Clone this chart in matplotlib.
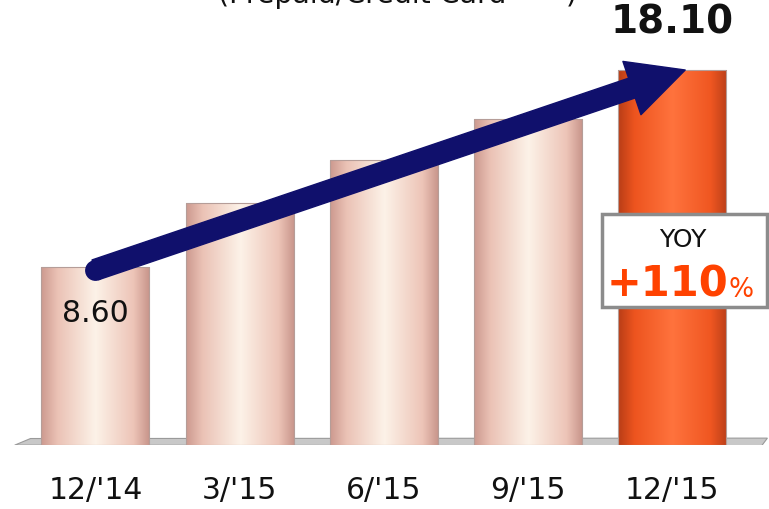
import numpy as np
import matplotlib.pyplot as plt
from matplotlib.colors import LinearSegmentedColormap
from matplotlib.patches import Rectangle, Polygon

# Member counts per quarter
quarters = ["12/'14", "3/'15", "6/'15", "9/'15", "12/'15"]
values = [8.60, 11.66, 13.75, 15.72, 18.10]
yoy_pct = 110

fig = plt.figure(figsize=(7.69, 5.10), dpi=100)
ax = fig.add_axes([0, 0.126, 1, 0.874])
ax.axis('off')

# cylinder shading, pale for past quarters and orange for the latest one
pale = LinearSegmentedColormap.from_list('pale', [
    (0.00, (0.80, 0.60, 0.56)),
    (0.15, (0.92, 0.76, 0.71)),
    (0.50, (0.99, 0.95, 0.91)),
    (0.85, (0.93, 0.77, 0.72)),
    (1.00, (0.78, 0.58, 0.54)),
])
hot = LinearSegmentedColormap.from_list('hot', [
    (0.00, (0.72, 0.24, 0.09)),
    (0.15, (0.93, 0.33, 0.12)),
    (0.50, (1.00, 0.45, 0.24)),
    (0.85, (0.94, 0.34, 0.13)),
    (1.00, (0.74, 0.25, 0.10)),
])

width = 0.75
xs = np.arange(len(values))
grad = np.linspace(0, 1, 256).reshape(1, -1)

# floor plane
ax.add_patch(Polygon([(-0.56, -0.02), (-0.45, 0.30), (4.66, 0.32), (4.62, -0.05)],
                     closed=True, facecolor='#c8c8c8', edgecolor='#9a9a9a',
                     linewidth=0.8, zorder=1))

bars = ax.bar(xs, values, width=width, color='none', edgecolor='#b59d98',
              linewidth=0.8, zorder=3)
for i, (b, v) in enumerate(zip(bars, values)):
    cmap = hot if i == len(values) - 1 else pale
    im = ax.imshow(grad, extent=[xs[i] - width / 2, xs[i] + width / 2, 0, v],
                   aspect='auto', cmap=cmap, zorder=2, interpolation='bilinear')
    im.set_clip_path(b)

# growth arrow from the first quarter to the latest
start = (xs[0], values[0] - 0.15)
tip = (xs[-1] + 0.09, values[-1])
navy = '#10106c'
ax.annotate('', xy=tip, xytext=start,
            arrowprops=dict(arrowstyle='simple,head_length=2.7,head_width=2.7,tail_width=1.0',
                            mutation_scale=15, color=navy, shrinkA=0, shrinkB=0),
            zorder=5)
ax.plot(*start, 'o', color=navy, markersize=15, markeredgewidth=0, zorder=5)

# value labels
ax.text(xs[0], 6.41, f"{values[0]:.2f}", ha='center', va='center',
        fontsize=21.5, color='#111111', zorder=6)
ax.text(xs[-1], 20.42, f"{values[-1]:.2f}", ha='center', va='center',
        fontsize=28, fontweight='bold', color='#111111', zorder=6, clip_on=False)

# YOY box on the last bar
ax.add_patch(Rectangle((3.513, 6.65), 1.144, 4.49, facecolor='white',
                       edgecolor='#8c8c8c', linewidth=2.5, zorder=6, clip_on=False))
ax.text(4.075, 9.93, 'YOY', ha='center', va='center', fontsize=18,
        color='#111111', zorder=7)
ax.text(4.387, 7.2, f"+{yoy_pct}", ha='right', va='baseline', fontsize=30,
        fontweight='bold', color='#ff4200', zorder=7)
ax.text(4.39, 7.2, '%', ha='left', va='baseline', fontsize=19,
        color='#ff4200', zorder=7)

# category labels
for x, q in zip(xs, quarters):
    ax.text(x, -2.14, q, ha='center', va='center', fontsize=21.5,
            color='#111111', clip_on=False)

# heading, mostly cut off at the top edge
fig.text(218 / 769, 1 - 3 / 510, '(Prepaid/Credit Card', ha='left', va='baseline',
         fontsize=20.4, color='#111111')
fig.text(566 / 769, 1 - 3 / 510, ')', ha='left', va='baseline',
         fontsize=20.4, color='#111111')

ax.set_xlim(-0.6616, 4.671)
ax.set_ylim(0, 21.53)

fig.savefig('out.png', dpi=100)
